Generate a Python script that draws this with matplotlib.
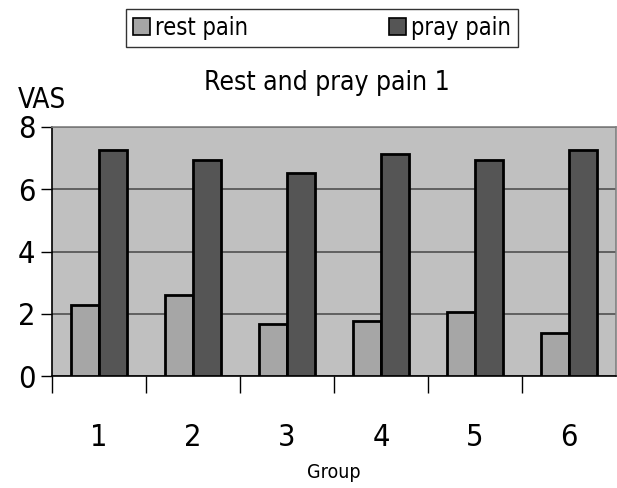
import numpy as np
import matplotlib
matplotlib.use("Agg")
import matplotlib.pyplot as plt
from matplotlib.patches import Patch

# data
groups = ["1", "2", "3", "4", "5", "6"]
rest_pain = [2.28, 2.6, 1.67, 1.77, 2.06, 1.38]
pray_pain = [7.27, 6.95, 6.53, 7.14, 6.95, 7.27]
y_ticks = [0, 2, 4, 6, 8]

plt.rcParams["font.family"] = ["DejaVu Sans"]
plt.rcParams["font.stretch"] = "condensed"

fig = plt.figure(figsize=(6.17, 4.88), dpi=100)
ax = fig.add_axes([52 / 617, 112 / 488, 564 / 617, 249 / 488])
ax.set_facecolor("#c0c0c0")

x = np.arange(len(groups))
w = 0.3
ax.bar(x - w / 2, rest_pain, w, color="#a6a6a6", edgecolor="black", linewidth=2, zorder=3)
ax.bar(x + w / 2, pray_pain, w, color="#555555", edgecolor="black", linewidth=2, zorder=3)

ax.set_xlim(-0.5, len(groups) - 0.5)
ax.set_ylim(0, 8)
ax.set_yticks(y_ticks)
ax.set_yticklabels([str(t) for t in y_ticks], fontsize=22)
ax.yaxis.grid(True, color="#505050", linewidth=1.2, zorder=1)
ax.tick_params(axis="y", length=8, width=1, pad=4)

# group labels at centres, tick marks at group boundaries
ax.set_xticks(x)
ax.set_xticklabels(groups, fontsize=22)
ax.tick_params(axis="x", which="major", length=0, pad=34)
ax.set_xticks(np.arange(len(groups)) - 0.5, minor=True)
ax.tick_params(axis="x", which="minor", length=12, width=1, color="black")

for side in ["top", "right"]:
    ax.spines[side].set_color("#808080")
    ax.spines[side].set_linewidth(1.2)
for side in ["left", "bottom"]:
    ax.spines[side].set_color("black")
    ax.spines[side].set_linewidth(1.2)

fig.text(334 / 617, 1 - 472 / 488, "Group", fontsize=14, va="center", ha="center")
fig.text(18 / 617, 1 - 100 / 488, "VAS", fontsize=20, va="center", ha="left")
fig.text(327 / 617, 1 - 83 / 488, "Rest and pray pain 1", fontsize=19, va="center", ha="center")

handles = [Patch(facecolor="#a6a6a6", edgecolor="black", linewidth=1.2),
           Patch(facecolor="#555555", edgecolor="black", linewidth=1.2)]
leg = fig.legend(handles, ["rest pain", "pray pain"], loc="center",
                 bbox_to_anchor=(322 / 617, 1 - 28 / 488), ncol=2, fontsize=17,
                 frameon=True, fancybox=False, edgecolor="black",
                 handlelength=0.7, handleheight=0.7, handletextpad=0.2,
                 columnspacing=6, borderpad=0.3, borderaxespad=0)
leg.get_frame().set_linewidth(1.0)

fig.savefig("out.png", dpi=100)
